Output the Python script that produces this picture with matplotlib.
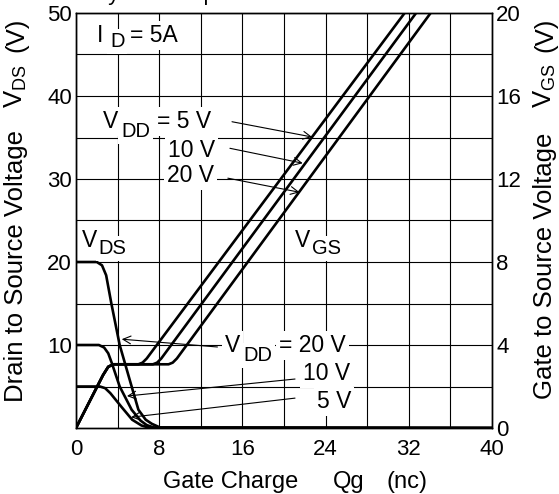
import matplotlib
matplotlib.use('Agg')
import matplotlib.pyplot as plt

plt.rcParams['font.family'] = 'Liberation Sans'
plt.rcParams['mathtext.fontset'] = 'custom'
plt.rcParams['mathtext.rm'] = 'Liberation Sans'
plt.rcParams['mathtext.it'] = 'Liberation Sans:italic'
plt.rcParams['font.size'] = 16

# drain-source voltage vs gate charge (left axis, V)
qg_ds20 = [0, 2.0, 2.5, 2.9, 3.4, 4.2, 5.35, 6.0, 6.7, 7.3, 8.1, 40]
vds20 = [20, 20, 19.6, 18.4, 15, 10, 5, 2.2, 1.0, 0.5, 0.05, 0]
qg_ds10 = [0, 2.2, 2.7, 3.1, 3.45, 4.2, 5.35, 6.2, 6.8, 7.5, 40]
vds10 = [10, 10, 9.7, 9.0, 7.8, 5, 2.2, 0.9, 0.35, 0.05, 0]
qg_ds5 = [0, 2.3, 2.8, 3.3, 4.4, 5.4, 6.3, 7.0, 40]
vds5 = [5, 5, 4.8, 4.2, 2.5, 1.0, 0.3, 0.05, 0]

# gate-source voltage vs gate charge (right axis, V)
qg_gs5 = [0, 2.6, 3.1, 3.6, 6.0, 6.4, 6.8, 31.6]
qg_gs10 = [0, 2.6, 3.1, 3.6, 7.4, 7.8, 8.2, 32.7]
qg_gs20 = [0, 2.6, 3.1, 3.6, 8.9, 9.3, 9.7, 34.1]
vgs = [0, 2.55, 2.95, 3.07, 3.07, 3.15, 3.35, 20]

fig = plt.figure(figsize=(5.59, 4.94), dpi=100)
ax = fig.add_axes([76/559, 66/494, 416/559, 415/494])
ax2 = ax.twinx()

ax.set_xlim(0, 40)
ax.set_ylim(0, 50)
ax2.set_ylim(0, 20)
ax.set_xticks(range(0, 41, 8))
ax.set_xticks(range(4, 41, 8), minor=True)
ax.set_yticks(range(10, 51, 10))
ax.set_yticks(range(5, 50, 10), minor=True)
ax2.set_yticks(range(0, 21, 4))
ax.grid(which='both', color='k', lw=0.8)
ax.tick_params(which='both', length=0)
ax.tick_params(axis='x', pad=8)
ax.tick_params(axis='y', pad=3)
ax2.tick_params(length=0, pad=3)
for a in (ax, ax2):
    for s in a.spines.values():
        s.set_linewidth(1.0)

lw = 1.9
ax.plot(qg_ds20, vds20, 'k', lw=lw, zorder=4)
ax.plot(qg_ds10, vds10, 'k', lw=lw, zorder=4)
ax.plot(qg_ds5, vds5, 'k', lw=lw, zorder=4)
ax2.plot(qg_gs5, vgs, 'k', lw=lw, zorder=4)
ax2.plot(qg_gs10, vgs, 'k', lw=lw, zorder=4)
ax2.plot(qg_gs20, vgs, 'k', lw=lw, zorder=4)

box = dict(facecolor='white', edgecolor='none', pad=2)
T = ax.transData
ap = dict(arrowstyle='->', lw=0.8, color='k', mutation_scale=14, shrinkA=0, shrinkB=0)


def label(x, y, parts, dy=-5.5):
    # parts: (text, is_subscript, gap in points before it)
    prev = None
    last_sub = False
    for s, sub, gap in parts:
        size = 14.5 if sub else 16.5
        if prev is None:
            prev = ax2.text(x, y, s, transform=T, fontsize=size, va='baseline',
                            ha='left', bbox=box, zorder=5)
        else:
            off = dy if sub else (-dy if last_sub else 0)
            prev = ax2.annotate(s, xy=(1, 0), xycoords=prev, xytext=(gap, off),
                                textcoords='offset points', fontsize=size,
                                va='bottom', ha='left', bbox=box, zorder=5)
        last_sub = sub


label(2.0, 46.5, [('I', 0, 0), ('D', 1, 5), ('= 5A', 0, 4)], dy=-3)
label(0.58, 21.8, [('V', 0, 0), ('DS', 1, 1)], dy=-4.5)
label(21.06, 21.8, [('V', 0, 0), ('GS', 1, 1)], dy=-4.5)

label(2.6, 36.14, [('V', 0, 0), ('DD', 1, 2), ('= 5 V', 0, 5)], dy=-6)
label(8.85, 32.65, [('10 V', 0, 0)])
label(8.75, 29.64, [('20 V', 0, 0)])
ax2.annotate('', xy=(22.7, 35.06), xytext=(15.0, 36.9), xycoords=T, textcoords=T, arrowprops=ap)
ax2.annotate('', xy=(21.8, 31.9), xytext=(14.8, 33.7), xycoords=T, textcoords=T, arrowprops=ap)
ax2.annotate('', xy=(21.5, 28.4), xytext=(14.6, 30.1), xycoords=T, textcoords=T, arrowprops=ap)

label(14.33, 9.16, [('V', 0, 0), ('DD', 1, 2), ('= 20 V', 0, 5)], dy=-6)
label(21.8, 5.78, [('10 V', 0, 0)])
label(23.17, 2.41, [('5 V', 0, 0)])
ax2.annotate('', xy=(4.4, 10.7), xytext=(13.6, 9.76), xycoords=T, textcoords=T, arrowprops=ap)
ax2.annotate('', xy=(4.9, 3.85), xytext=(21.06, 5.9), xycoords=T, textcoords=T, arrowprops=ap)
ax2.annotate('', xy=(5.3, 1.3), xytext=(21.06, 3.6), xycoords=T, textcoords=T, arrowprops=ap)

# axis titles
fig.text(163/559, 6/494, 'Gate Charge', fontsize=17, va='baseline', ha='left')
fig.text(333/559, 6/494, 'Qg', fontsize=17, va='baseline', ha='left')
fig.text(387/559, 6/494, '(nc)', fontsize=17, va='baseline', ha='left')

fig.text(16/559, 1 - 266/494, 'Drain to Source Voltage', fontsize=18.5, rotation=90, va='center', ha='center')
fig.text(16/559, 1 - 86/494, r'V$_{\rm DS}$', fontsize=18.5, rotation=90, va='center', ha='center')
fig.text(16/559, 1 - 35/494, '(V)', fontsize=18.5, rotation=90, va='center', ha='center')
fig.text(545/559, 1 - 266/494, 'Gate to Source Voltage', fontsize=18.5, rotation=90, va='center', ha='center')
fig.text(545/559, 1 - 86/494, r'V$_{\rm GS}$', fontsize=18.5, rotation=90, va='center', ha='center')
fig.text(545/559, 1 - 35/494, '(V)', fontsize=18.5, rotation=90, va='center', ha='center')

# title is cut off at the top of the picture
fig.text(92/559, 1.0, 'Dynamic Input Characteristics', va='baseline', ha='left')

fig.savefig('out.png', dpi=100)
